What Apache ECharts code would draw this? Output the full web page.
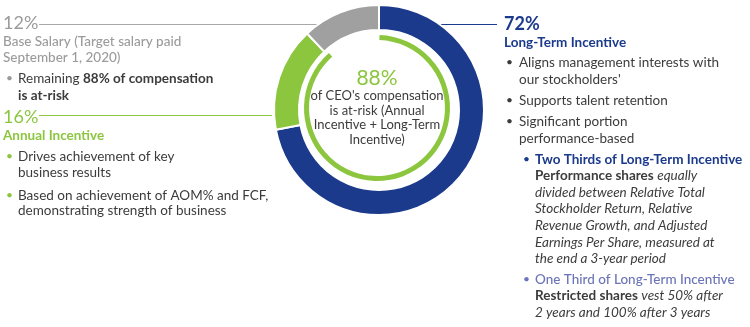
<!DOCTYPE html>
<html><head><meta charset="utf-8">
<script src="https://cdn.jsdelivr.net/npm/echarts@6/dist/echarts.min.js"></script>
<style>html,body{margin:0;padding:0;background:#fff}#c{width:750px;height:327px}</style>
</head><body><div id="c"></div>
<script>
const categories = ['Long-Term Incentive', 'Annual Incentive', 'Base Salary (Target salary paid September 1, 2020)'];
const values = [72, 16, 12];
const atRiskValue = 88;
const colors = ['#1b3a8c', '#8cc63f', '#a0a0a0'];

const FONT = 'Lato';
const DARK = '#3c3c3c';
const GREY = '#9b9b9b';
const GREEN = '#8cc63f';
const BLUE = '#1b3a8c';
const LIGHTBLUE = '#6b74b6';
const FS = 13.5;

const chart = echarts.init(document.getElementById('c'), null, {renderer: 'canvas'});
const g = [];
function txt(x, y, text, style, rich) {
  g.push({type: 'text', left: x, top: y, style: Object.assign({
    text: text, fontFamily: FONT, fontSize: FS, fill: DARK, rich: rich || {}
  }, style || {})});
}
function line(x1, y1, x2, y2, color) {
  g.push({type: 'line', shape: {x1, y1, x2, y2}, style: {stroke: color, lineWidth: 1.2}});
}
function bullet(x, y, color) {
  txt(x, y, '•', {fill: color, fontSize: 12});
}
const richBase = {
  b: {fontFamily: FONT, fontSize: FS, fontWeight: 'bold', fill: DARK},
  i: {fontFamily: FONT, fontSize: FS, fontStyle: 'italic', fill: DARK}
};

// Left: Base salary
txt(3, 14, values[2] + '%', {fill: GREY, fontSize: 18});
line(39, 24.5, 318, 24.5, '#a8a8a8');
txt(3, 35, 'Base Salary (Target salary paid', {fill: GREY, fontSize: FS, fontWeight: 500});
txt(3, 51, 'September 1, 2020)', {fill: GREY, fontSize: FS, fontWeight: 500});
bullet(6, 72, GREY);
txt(18, 72, 'Remaining {b|' + atRiskValue + '% of compensation}', {}, richBase);
txt(18, 89, '{b|is at-risk}', {}, richBase);

// Left: Annual incentive
txt(3, 108, values[1] + '%', {fill: GREEN, fontSize: 18});
line(39, 115.5, 272, 115.5, GREEN);
txt(3, 129, 'Annual Incentive', {fill: GREEN, fontSize: FS, fontWeight: 'bold'});
bullet(6, 150, GREEN);
txt(18, 150, 'Drives achievement of key');
txt(18, 166, 'business results');
bullet(6, 189, GREEN);
txt(18, 189, 'Based on achievement of AOM% and FCF,');
txt(18, 204, 'demonstrating strength of business');

// Right: Long-term incentive
line(440, 24.5, 497, 24.5, BLUE);
txt(504, 15, values[0] + '%', {fill: BLUE, fontSize: 18, fontWeight: 'bold'});
txt(504, 36, 'Long-Term Incentive', {fill: BLUE, fontSize: FS, fontWeight: 'bold'});
bullet(506, 56, DARK);
txt(519, 56, 'Aligns management interests with');
txt(519, 73, "our stockholders'");
bullet(506, 94, DARK);
txt(519, 94, 'Supports talent retention');
bullet(506, 115, DARK);
txt(519, 115, 'Significant portion');
txt(519, 132, 'performance-based');
bullet(523, 153, BLUE);
txt(535, 153, 'Two Thirds of Long-Term Incentive', {fill: BLUE, fontWeight: 'bold'});
txt(535, 169, '{b|Performance shares} {i|equally}', {}, richBase);
txt(535, 186, 'divided between Relative Total', {fontStyle: 'italic'});
txt(535, 202, 'Stockholder Return, Relative', {fontStyle: 'italic'});
txt(535, 219, 'Revenue Growth, and Adjusted', {fontStyle: 'italic'});
txt(535, 236, 'Earnings Per Share, measured at', {fontStyle: 'italic'});
txt(535, 252, 'the end a 3-year period', {fontStyle: 'italic'});
bullet(523, 273, LIGHTBLUE);
txt(535, 273, 'One Third of Long-Term Incentive', {fill: LIGHTBLUE, fontWeight: 500});
txt(535, 289, '{b|Restricted shares} {i|vest 50% after}', {}, richBase);
txt(535, 306, '2 years and 100% after 3 years', {fontStyle: 'italic'});

// Center text
g.push({type: 'text', left: 'center', top: 0, style: {}}); // placeholder removed below
g.pop();
g.push({type: 'text', x: 377, y: 78, style: {text: atRiskValue + '%', fontFamily: FONT, fontSize: 21, fill: GREEN, align: 'center', verticalAlign: 'middle'}});
const centerLines = ["of CEO's compensation", 'is at-risk (Annual', 'Incentive + Long-Term', 'Incentive)'];
centerLines.forEach((t, i) => {
  g.push({type: 'text', x: 377, y: 96 + i * 14.5, style: {text: t, fontFamily: FONT, fontSize: 13, fill: DARK, align: 'center', verticalAlign: 'middle'}});
});

chart.setOption({
  animation: false,
  series: [
    {
      type: 'pie', silent: true, center: [379, 110], radius: [80, 105],
      startAngle: 90, clockwise: true,
      label: {show: false}, labelLine: {show: false},
      itemStyle: {borderColor: '#fff', borderWidth: 2},
      data: categories.map((c, i) => ({name: c, value: values[i], itemStyle: {color: colors[i]}}))
    },
    {
      type: 'pie', silent: true, center: [377, 108], radius: [68, 73],
      startAngle: 88, clockwise: true,
      label: {show: false}, labelLine: {show: false},
      data: [
        {name: 'At risk', value: atRiskValue, itemStyle: {color: GREEN}},
        {name: 'gap', value: 100 - atRiskValue, itemStyle: {color: 'rgba(0,0,0,0)'}}
      ]
    }
  ],
  graphic: g
});
</script></body></html>
